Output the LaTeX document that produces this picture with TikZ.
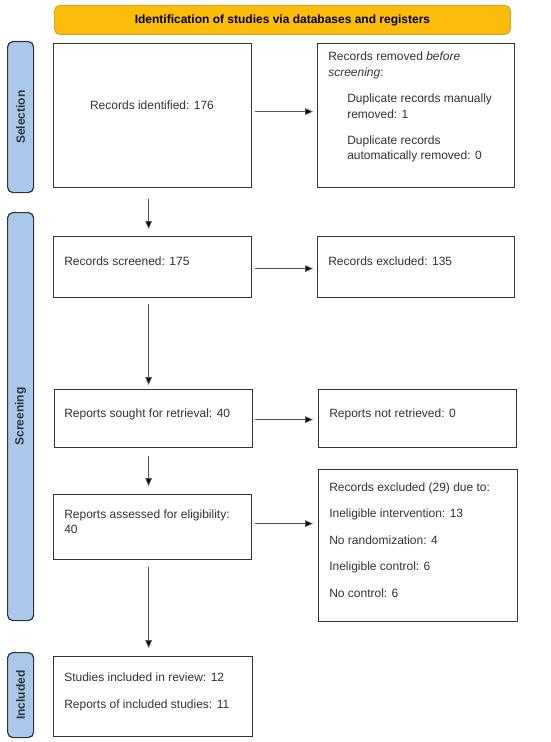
\documentclass[tikz,border=0pt]{standalone}
\usepackage{fontspec}
\setmainfont{Liberation Sans}
\usetikzlibrary{arrows.meta}
\definecolor{ybar}{HTML}{FBBC0A}
\definecolor{ybord}{HTML}{D9A21E}
\definecolor{bbar}{HTML}{A9C8EC}
\definecolor{bord}{HTML}{333333}
\definecolor{arrc}{HTML}{555555}
\begin{document}
\begin{tikzpicture}[x=0.75pt,y=-0.75pt,
  box/.style={draw=bord,line width=0.9pt,fill=white,anchor=north west,inner sep=0pt},
  side/.style={draw=bord,line width=0.9pt,fill=bbar,rounded corners=4pt,anchor=north west,inner sep=0pt},
  sidelab/.style={rotate=90,font=\fontsize{9}{11}\selectfont\bfseries,text=bord},
  txt/.style={anchor=base west,inner sep=0pt,font=\fontsize{9}{11}\selectfont,text=bord},
  arr/.style={draw=arrc,line width=0.6pt,-{Triangle[length=6pt,width=5pt,fill=black]}}]
\useasboundingbox (0,0) rectangle (550,742);
\fill[white] (0,0) rectangle (550,742);
% header
\node[draw=ybord,line width=0.7pt,fill=ybar,rounded corners=4pt,anchor=north west,inner sep=0pt,
  minimum width=456*0.75pt,minimum height=29*0.75pt,font=\fontsize{9}{11}\selectfont\bfseries]
  (head) at (54,5) {Identification of studies via databases and registers};
% side bars
\node[side,minimum width=26*0.75pt,minimum height=151*0.75pt] (sel) at (7,41) {};
\node[sidelab] at (sel.center) {Selection};
\node[side,minimum width=26*0.75pt,minimum height=408*0.75pt] (scr) at (7,212) {};
\node[sidelab] at (scr.center) {Screening};
\node[side,minimum width=26*0.75pt,minimum height=85*0.75pt] (inc) at (7,652) {};
\node[sidelab] at (inc.center) {Included};
% left boxes
\node[box,minimum width=198*0.75pt,minimum height=144*0.75pt] (b1) at (53,43) {};
\node[box,minimum width=198*0.75pt,minimum height=61*0.75pt] (b2) at (53,236) {};
\node[box,minimum width=198*0.75pt,minimum height=58*0.75pt] (b3) at (54,389) {};
\node[box,minimum width=198*0.75pt,minimum height=65*0.75pt] (b4) at (53,494) {};
\node[box,minimum width=199*0.75pt,minimum height=80*0.75pt] (b5) at (53,656) {};
% right boxes
\node[box,minimum width=197*0.75pt,minimum height=144*0.75pt] (r1) at (317,43) {};
\node[box,minimum width=197*0.75pt,minimum height=61*0.75pt] (r2) at (317,236) {};
\node[box,minimum width=198*0.75pt,minimum height=58*0.75pt] (r3) at (318,389) {};
\node[box,minimum width=199*0.75pt,minimum height=152*0.75pt] (r4) at (318,469) {};
% texts left
\node[anchor=base,inner sep=0pt,font=\fontsize{9}{11}\selectfont,text=bord] (t1) at (152,109) {Records identified: 176};
\node[txt] (t2) at (64,265) {Records screened: 175};
\node[txt] (t3) at (64,417) {Reports sought for retrieval: 40};
\node[txt] (t4a) at (64,518) {Reports assessed for eligibility:};
\node[txt] (t4b) at (64,533) {40};
\node[txt] (t5a) at (64,681) {Studies included in review: 12};
\node[txt] (t5b) at (64,708) {Reports of included studies: 11};
% texts right
\node[txt] (u1a) at (328,61) {Records removed \textit{before}};
\node[txt] (u1b) at (328,76) {\textit{screening}:};
\node[txt] (u1c) at (347,103) {Duplicate records manually};
\node[txt] (u1d) at (347,118) {removed: 1};
\node[txt] (u1e) at (347,144) {Duplicate records};
\node[txt] (u1f) at (347,159) {automatically removed: 0};
\node[txt] (u2) at (328,265) {Records excluded: 135};
\node[txt] (u3) at (329,417) {Reports not retrieved: 0};
\node[txt] (u4a) at (329,491) {Records excluded (29) due to:};
\node[txt] (u4b) at (329,517) {Ineligible intervention: 13};
\node[txt] (u4c) at (329,544) {No randomization: 4};
\node[txt] (u4d) at (329,570) {Ineligible control: 6};
\node[txt] (u4e) at (329,597) {No control: 6};
% horizontal arrows
\draw[arr] ([shift={(3,-4)}]b1.east) -- ([shift={(-4,-4)}]r1.west);
\draw[arr] ([shift={(3,1.5)}]b2.east) -- ([shift={(-4,1.5)}]r2.west);
\draw[arr] ([shift={(2,1)}]b3.east) -- ([shift={(-5,1)}]r3.west);
\draw[arr] ([shift={(3,-3.5)}]b4.east) -- ([shift={(-5,-22)}]r4.west);
% vertical arrows
\draw[arr] ([shift={(-4,11)}]b1.south) -- ([shift={(-4,-7)}]b2.north);
\draw[arr] ([shift={(-4,6)}]b2.south) -- ([shift={(-5,-4)}]b3.north);
\draw[arr] ([shift={(-5,8)}]b3.south) -- ([shift={(-4,-8)}]b4.north);
\draw[arr] ([shift={(-4,7)}]b4.south) -- ([shift={(-4.5,-8)}]b5.north);
\end{tikzpicture}
\end{document}
